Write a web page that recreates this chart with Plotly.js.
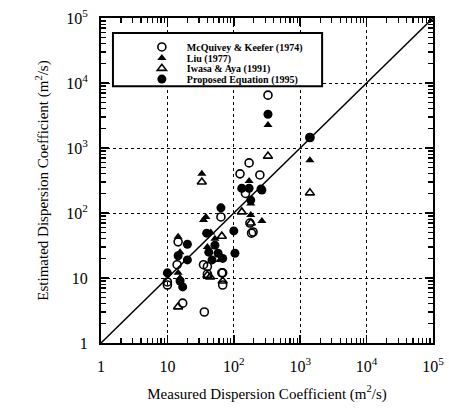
<!DOCTYPE html>
<html>
<head>
<meta charset="utf-8">
<script src="https://cdn.plot.ly/plotly-3.0.1.min.js"></script>
<style>html,body{margin:0;padding:0;background:#fff;}#chart{width:449px;height:416px;}</style>
</head>
<body>
<div id="chart"></div>
<script>
// McQuivey & Keefer (1974) - open circles
const mkX = [327, 170, 124, 247, 175, 195, 64, 14.5, 14, 10, 17, 36, 35, 40, 40, 68, 68, 185, 150, 1400, 10, 66];
const mkY = [6500, 590, 400, 385, 70, 51, 87, 36, 16, 7.8, 4.1, 3.0, 16, 15, 11.5, 12, 7.8, 49, 200, 1450, 8.7, 12];
// Liu (1977) - filled triangles
const liuX = [327, 1400, 33, 170, 132, 180, 265, 180, 38, 35, 14.5, 10, 15.5, 15.5, 40, 47, 62, 45, 52, 14.5];
const liuY = [2250, 650, 400, 310, 240, 140, 75, 93, 87, 78, 43, 12, 10, 25, 30, 19, 19, 50, 40, 12];
// Iwasa & Aya (1991) - open triangles
const iaX = [327, 1400, 33, 132, 180, 66, 44, 14.5, 68, 40];
const iaY = [750, 204, 300, 104, 70, 44, 10.4, 3.6, 9, 11];
// Proposed Equation (1995) - filled circles
const peX = [327, 1400, 265, 180, 257, 64, 100, 104, 20, 20, 10, 17, 14.5, 52, 58, 68, 47, 39, 132, 170, 15.5, 42];
const peY = [3300, 1450, 225, 158, 234, 120, 53, 24, 33, 19, 12, 7.3, 22, 32, 24, 20, 19, 49, 240, 240, 9, 25];
// 1:1 line
const lineX = [1, 100000];
const lineY = [1, 100000];

const tickVals = [1, 10, 100, 1000, 10000, 100000];
const tickText = ['1', '10', '10<sup>2</sup>', '10<sup>3</sup>', '10<sup>4</sup>', '10<sup>5</sup>'];

const minorVals = [];
for (let d = 0; d < 5; d++) {
  for (let m = 2; m <= 9; m++) minorVals.push(m * Math.pow(10, d));
}

const serif = 'Liberation Serif, Times New Roman, serif';

const traces = [
  {x: lineX, y: lineY, mode: 'lines', line: {color: 'black', width: 1.5}, showlegend: false, hoverinfo: 'skip'},
  {x: mkX, y: mkY, mode: 'markers', name: 'McQuivey & Keefer (1974)', legend: 'legend',
   marker: {symbol: 'circle-open', size: 8, color: 'black', line: {width: 1.6, color: 'black'}}},
  {x: liuX, y: liuY, mode: 'markers', name: 'Liu (1977)', legend: 'legend2',
   marker: {symbol: 'triangle-up', size: 8, color: 'black'}},
  {x: iaX, y: iaY, mode: 'markers', name: 'Iwasa & Aya (1991)', legend: 'legend3',
   marker: {symbol: 'triangle-up-open', size: 8, color: 'black', line: {width: 1.6, color: 'black'}}},
  {x: peX, y: peY, mode: 'markers', name: 'Proposed Equation (1995)', legend: 'legend4',
   marker: {symbol: 'circle', size: 9, color: 'black'}}
];

function axis(title) {
  return {
    type: 'log', range: [0, 5],
    tickmode: 'array', tickvals: tickVals, ticktext: tickText,
    ticks: 'inside', ticklen: 8, tickwidth: 1.5, tickcolor: 'black',
    mirror: 'allticks', showline: true, linecolor: 'black', linewidth: 2,
    showgrid: true, gridcolor: 'black', gridwidth: 1, griddash: 'dot',
    zeroline: false,
    minor: {ticks: 'inside', ticklen: 5, tickwidth: 1.2, tickcolor: 'black', tickmode: 'array', tickvals: minorVals, showgrid: false},
    tickfont: {family: serif, size: 16, color: 'black'},
    ticklabelstandoff: 8,
    title: {text: title, font: {family: serif, size: 15, color: 'black'}, standoff: 14}
  };
}

function leg(yc) {
  return {
    x: 0.108, y: yc, xanchor: 'left', yanchor: 'middle',
    bgcolor: 'rgba(0,0,0,0)', borderwidth: 0,
    font: {family: serif, size: 10, color: 'black', weight: 'bold'},
    itemwidth: 40
  };
}

const layout = {
  width: 449, height: 416,
  margin: {l: 101, r: 16, t: 18, b: 73},
  paper_bgcolor: 'white', plot_bgcolor: 'white',
  xaxis: axis('Measured Dispersion Coefficient (m<sup>2</sup>/s)'),
  yaxis: axis('Estimated Dispersion Coefficient (m<sup>2</sup>/s)'),
  showlegend: true,
  legend: leg(0.911),
  legend2: leg(0.877),
  legend3: leg(0.845),
  legend4: leg(0.812),
  shapes: [
    {type: 'rect', xref: 'paper', yref: 'paper', x0: 0.036, x1: 0.666, y0: 0.79, y1: 0.954,
     line: {color: 'black', width: 2}, fillcolor: 'white', layer: 'above'}
  ]
};

Plotly.newPlot('chart', traces, layout, {displayModeBar: false, staticPlot: true});
</script>
</body>
</html>
